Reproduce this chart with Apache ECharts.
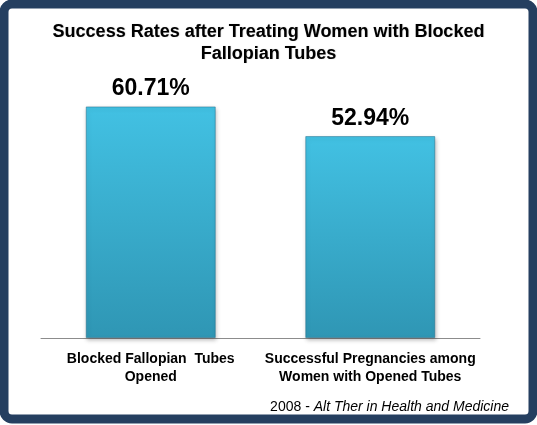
<!DOCTYPE html>
<html><head><meta charset="utf-8">
<script src="https://cdn.jsdelivr.net/npm/echarts@6/dist/echarts.min.js"></script>
<style>html,body{margin:0;padding:0;background:#fff}#c{width:537px;height:425px}</style>
</head><body><div id="c"></div>
<script>
const categories = ['Blocked Fallopian  Tubes\nOpened', 'Successful Pregnancies among\nWomen with Opened Tubes'];
const values = [60.71, 52.94];
const titleText = 'Success Rates after Treating Women with Blocked\nFallopian Tubes';
const sourceYear = '2008 - ';
const sourceName = 'Alt Ther in Health and Medicine';

const chart = echarts.init(document.getElementById('c'), null, {renderer: 'canvas'});
chart.setOption({
  animation: false,
  backgroundColor: '#ffffff',
  graphic: [
    {type: 'rect', shape: {x: 4, y: 4, width: 529, height: 415, r: 8}, style: {fill: 'none', stroke: '#253f60', lineWidth: 9}, z: 100},
    {type: 'text', right: 28, top: 400, style: {rich: {a: {fontFamily: 'Liberation Sans, Arial', fontSize: 14, fill: '#000'}, b: {fontFamily: 'Liberation Sans, Arial', fontSize: 14, fontStyle: 'italic', fill: '#000'}}, text: '{a|' + sourceYear + '}{b|' + sourceName + '}'}}
  ],
  title: {
    text: titleText, left: 'center', top: 16,
    textStyle: {fontFamily: 'Liberation Sans, Arial', fontSize: 18, fontWeight: 'bold', color: '#000', lineHeight: 22,
      textShadowColor: 'rgba(0,0,0,0.25)', textShadowBlur: 1, textShadowOffsetX: 0.5, textShadowOffsetY: 0.5}
  },
  grid: {left: 41, right: 57, top: 71, bottom: 87, containLabel: false},
  xAxis: {
    type: 'category', data: categories,
    axisLine: {lineStyle: {color: '#8c8c8c', width: 1}},
    axisTick: {show: false},
    axisLabel: {interval: 0, margin: 12, fontFamily: 'Liberation Sans, Arial', fontSize: 14, fontWeight: 'bold', color: '#000', lineHeight: 18}
  },
  yAxis: {type: 'value', min: 0, max: 70, show: false, splitLine: {show: false}},
  series: [{
    type: 'bar', data: values, barWidth: 130,
    itemStyle: {
      color: new echarts.graphic.LinearGradient(0, 0, 0, 1, [
        {offset: 0, color: '#42c1e3'}, {offset: 1, color: '#2f96b4'}
      ]),
      borderColor: 'rgba(30,110,140,0.5)', borderWidth: 1,
      shadowColor: 'rgba(0,0,0,0.25)', shadowBlur: 4, shadowOffsetX: 1, shadowOffsetY: 2
    },
    label: {
      show: true, position: 'top', distance: 6,
      formatter: p => p.value.toFixed(2) + '%',
      fontFamily: 'Liberation Sans, Arial', fontSize: 23, fontWeight: 'bold', color: '#000'
    }
  }]
});
</script></body></html>
